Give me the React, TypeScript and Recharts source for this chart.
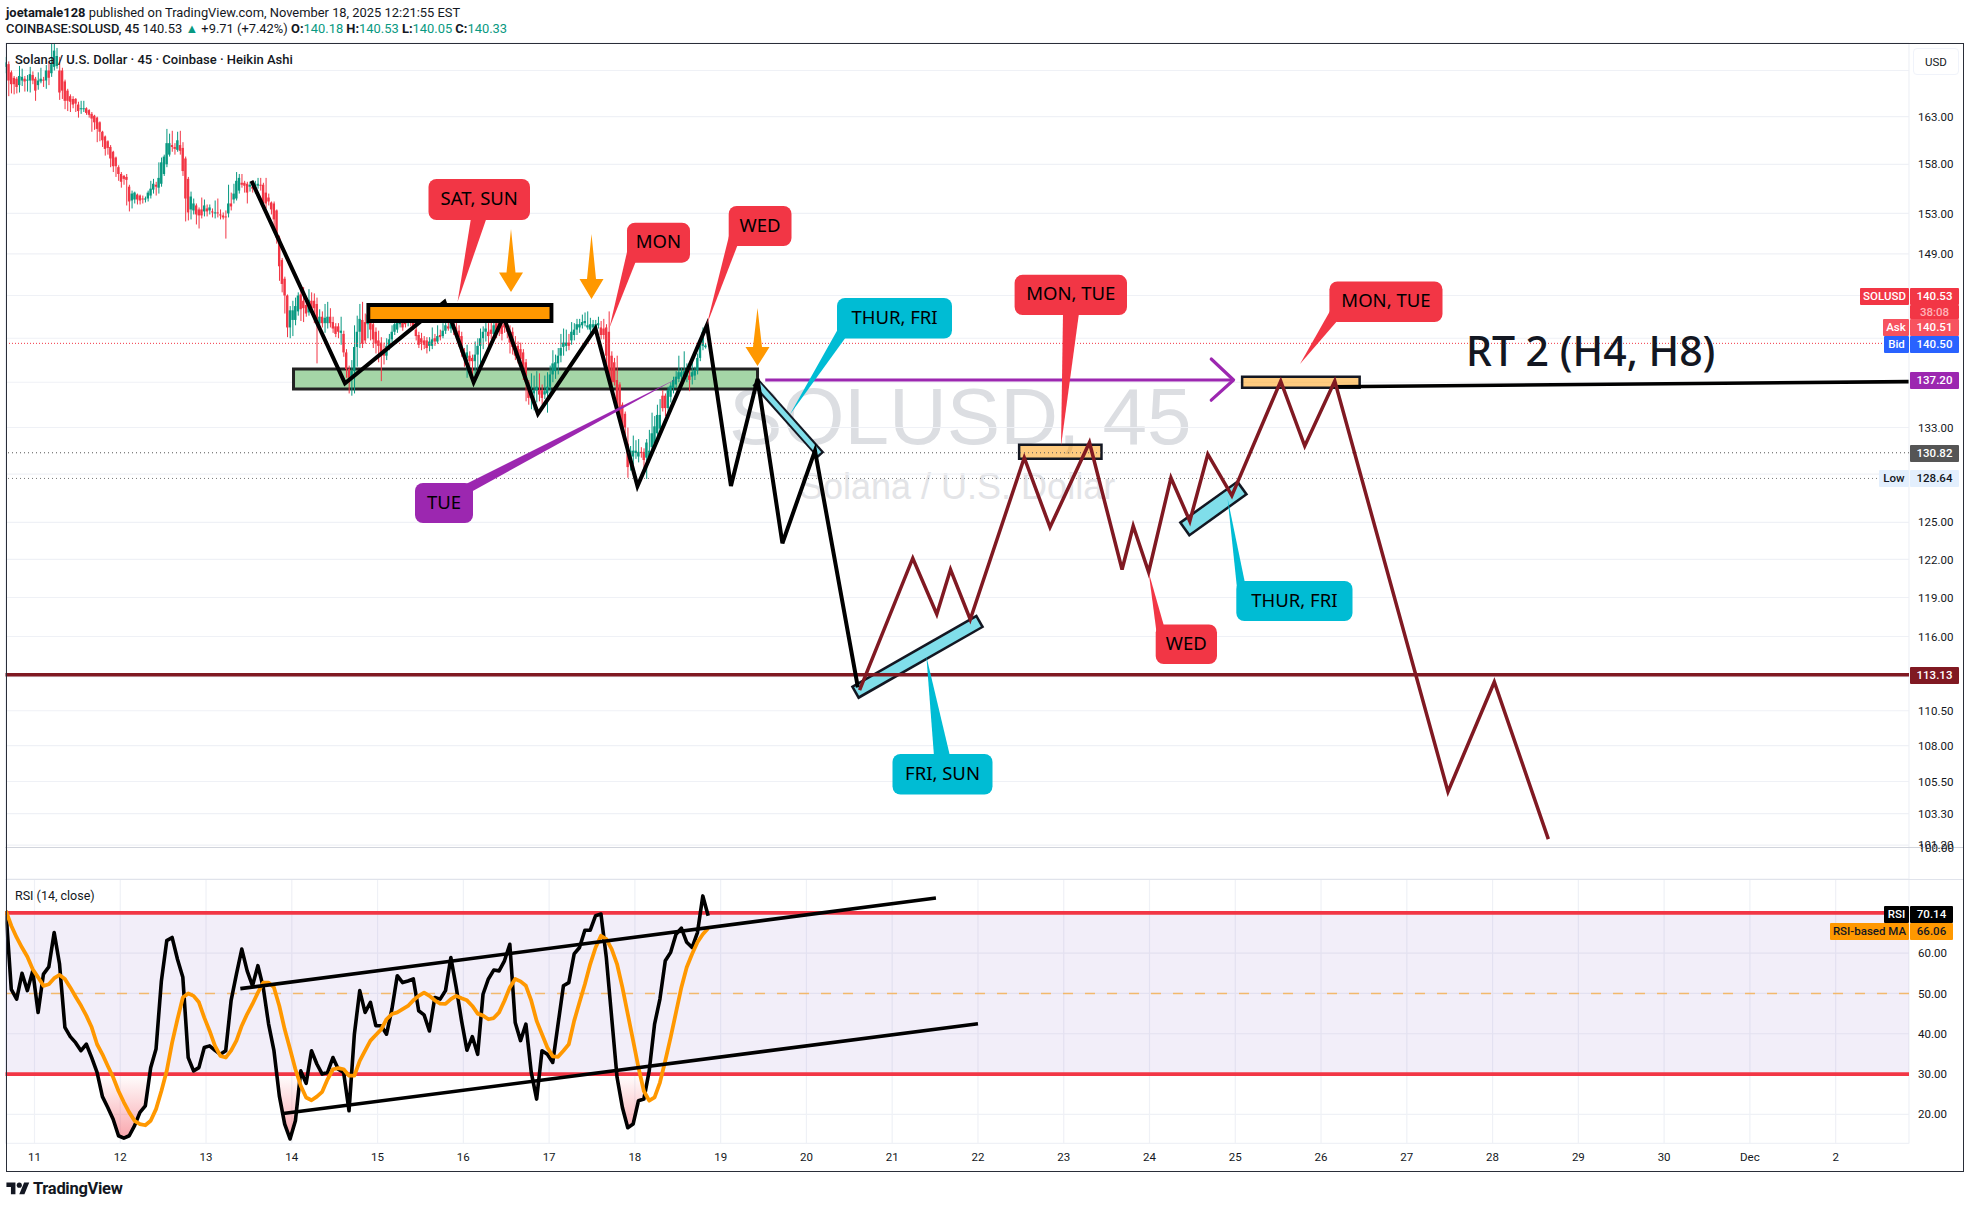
import React from "react";
import {
  Area,
  Bar,
  CartesianGrid,
  ComposedChart,
  Line,
  ReferenceArea,
  ReferenceLine,
  XAxis,
  YAxis,
} from "recharts";

const candleOpen = [
  168.4,168.7,167.8,167.2,167.1,166.4,166.9,167.1,166.9,166.9,
  167.5,167.1,166.4,166.8,167.0,166.9,168.0,167.7,168.4,168.5,
  168.0,168.0,166.8,165.8,165.2,164.9,164.9,164.3,163.8,163.9,
  163.9,163.7,163.3,163.1,162.9,162.4,161.4,160.9,160.4,159.8,
  159.3,158.7,157.7,157.0,156.8,156.7,155.7,154.3,154.4,154.9,
  154.8,154.5,154.4,154.5,154.8,155.4,155.9,155.6,156.0,157.0,
  158.0,159.0,160.0,159.8,159.5,160.0,159.7,158.6,156.5,153.4,
  153.3,153.8,153.4,153.4,153.2,153.5,153.3,153.2,153.1,153.1,
  152.9,152.8,152.7,153.0,154.0,154.4,154.5,155.3,156.1,156.1,
  156.0,155.7,155.7,155.4,155.8,155.9,155.9,155.1,154.6,154.1,
  154.0,153.3,150.6,148.4,146.6,145.0,142.0,142.7,142.7,143.5,
  145.1,144.5,144.1,143.4,144.5,144.5,144.2,142.4,143.0,142.4,
  142.4,143.0,142.5,142.1,142.1,141.5,141.4,139.7,138.2,137.5,
  138.0,140.2,141.6,142.7,142.5,142.3,142.7,142.3,141.6,140.8,
  140.6,140.0,139.4,140.3,140.9,141.6,141.8,142.3,142.7,142.7,
  142.5,142.8,142.7,141.8,141.3,141.0,140.8,140.8,140.3,140.3,
  141.0,140.7,141.3,141.2,141.7,142.1,141.9,142.7,142.0,141.7,
  141.2,139.7,139.2,139.4,139.2,138.9,139.5,140.3,141.0,141.6,
  141.6,141.8,141.4,142.4,142.4,142.2,142.4,142.0,141.6,141.6,
  140.3,140.3,140.0,139.7,138.8,137.0,136.0,136.0,136.3,136.3,
  136.3,135.9,136.0,136.6,137.7,138.0,138.7,139.4,140.2,140.3,
  140.6,140.8,141.3,141.8,142.0,142.2,142.4,142.0,141.8,142.0,
  142.0,142.2,
  142.0,141.9,142.0,141.6,139.4,138.8,137.2,136.8,135.0,134.2,
  131.6,130.0,130.5,130.8,130.5,130.9,130.9,130.4,130.4,131.3,
  131.6,132.5,132.9,135.8,135.8,134.7,135.7,136.5,136.8,137.3,
  137.5,137.6,137.5,137.6,137.5,137.6,138.1,139.2,140.3,140.18,
];
const candleClose = [
  168.9,166.9,166.5,166.5,166.2,167.4,167.3,166.8,167.0,167.6,
  166.9,165.8,166.9,167.1,166.9,168.0,167.2,168.7,170.2,169.6,
  165.6,165.8,164.7,164.7,164.6,164.3,164.4,163.6,163.9,163.9,
  163.4,163.2,162.8,162.4,161.7,161.4,160.5,159.6,159.7,158.6,
  157.8,157.8,157.0,156.2,156.5,156.4,154.2,155.0,155.1,154.4,
  154.3,154.4,154.5,155.1,155.5,156.0,155.7,156.6,158.2,158.8,
  160.2,160.2,159.8,159.6,160.5,159.4,157.3,154.5,153.1,154.7,
  154.0,152.9,152.8,152.8,153.8,153.2,153.6,153.1,153.1,153.0,
  152.8,152.6,152.6,154.0,153.7,155.0,156.3,156.6,155.9,155.8,
  155.1,155.9,155.5,155.9,156.0,155.8,154.0,154.0,154.2,153.4,
  152.4,150.6,147.8,146.1,145.0,142.0,143.6,143.6,144.0,145.0,
  143.7,143.8,143.3,144.6,143.8,143.8,142.8,143.0,142.4,142.9,
  143.0,142.4,141.9,141.4,141.6,141.7,139.7,138.2,137.4,138.0,
  140.2,141.6,142.8,140.5,140.8,143.2,141.8,140.9,140.5,140.3,
  139.4,139.4,140.3,140.9,141.6,142.3,142.6,142.7,142.0,142.3,
  143.0,142.4,142.1,141.2,140.4,140.6,140.4,140.1,140.7,140.9,
  140.7,141.2,141.1,141.7,142.2,141.9,142.5,141.8,141.2,141.1,
  139.7,139.2,139.7,138.9,138.9,139.5,140.3,141.0,141.6,141.9,
  141.2,141.4,142.2,141.6,141.6,141.4,142.0,141.6,140.6,140.2,
  139.4,139.2,139.1,138.1,137.0,135.6,136.3,136.3,136.6,135.9,
  135.6,136.2,136.6,137.7,138.7,138.8,139.4,140.1,140.6,140.6,
  140.3,141.6,141.8,142.3,142.3,142.5,142.6,142.2,142.3,142.3,
  142.3,142.4,
  141.3,141.3,139.4,137.2,137.0,137.0,135.0,133.9,133.0,133.0,
  129.6,131.0,131.0,131.0,130.9,130.8,130.2,131.7,131.0,132.5,
  133.1,134.1,134.1,134.7,134.7,136.3,136.7,137.2,137.5,137.9,
  137.9,138.0,138.1,137.2,137.9,138.1,139.2,140.3,141.6,140.33,
];
const candleHigh = [
  169.5,169.0,168.0,167.4,167.3,168.5,168.2,167.4,167.5,168.4,
  167.9,167.3,167.8,168.3,167.3,168.6,169.0,171.0,171.0,170.5,
  169.5,168.3,167.0,166.0,165.4,165.2,165.0,164.6,164.7,164.7,
  164.0,163.8,163.5,163.2,163.0,162.5,161.5,161.0,160.5,160.0,
  159.4,158.8,157.9,157.2,156.9,157.0,155.9,155.3,155.2,155.0,
  154.9,154.8,154.7,155.3,156.3,156.5,156.2,158.2,158.7,159.0,
  161.7,161.2,161.5,160.2,161.4,161.5,160.3,158.8,156.7,155.2,
  154.5,154.0,153.6,154.6,154.4,153.9,153.9,153.5,154.3,154.5,
  153.4,153.1,153.3,155.9,155.1,156.0,157.2,157.0,157.0,156.3,
  156.2,156.2,156.0,156.3,156.6,156.6,156.1,156.6,155.0,154.2,
  154.2,153.4,150.8,148.6,146.8,145.1,144.0,144.5,144.8,145.3,
  145.5,145.8,144.4,145.6,145.3,145.2,144.8,143.7,143.5,144.2,
  144.4,143.8,143.0,142.4,142.4,143.0,141.7,140.0,138.5,139.0,
  142.2,143.1,144.2,144.4,143.3,144.0,143.6,143.0,142.0,141.7,
  141.1,140.6,141.0,141.4,142.2,142.9,143.7,143.4,143.0,143.2,
  143.4,143.1,143.0,142.6,141.6,141.5,141.2,141.1,141.1,142.0,
  141.4,142.2,141.8,142.4,142.8,143.2,143.6,144.0,143.0,142.2,
  141.6,140.1,140.4,139.8,139.5,140.7,141.0,141.9,142.1,143.1,
  142.4,142.8,142.9,143.0,143.1,142.9,143.0,143.0,142.2,142.0,
  141.2,140.7,140.6,140.0,139.1,137.2,137.8,137.6,138.0,137.8,
  136.8,137.6,137.9,138.5,139.9,139.5,140.1,141.4,141.9,141.8,
  141.4,142.5,142.4,142.8,142.8,143.2,143.4,143.5,142.9,142.7,
  142.7,143.0,
  142.6,142.8,142.3,143.5,139.8,139.2,139.4,137.0,135.2,134.4,
  133.0,131.4,132.3,131.9,132.0,131.3,131.2,132.0,132.8,134.3,
  134.0,135.0,135.5,136.3,136.0,136.6,137.0,137.5,138.0,139.4,
  138.3,139.8,138.7,138.2,138.9,138.4,139.6,140.8,142.0,140.53,
];
const candleLow = [
  167.7,165.2,165.5,165.4,165.5,165.6,166.3,165.7,165.7,165.6,
  166.5,164.7,165.9,166.6,166.2,166.0,166.4,167.3,168.0,168.2,
  164.8,164.9,163.8,163.6,163.5,163.9,163.5,162.9,163.3,163.5,
  163.2,162.9,161.4,161.6,160.3,160.4,159.8,158.9,159.0,157.7,
  157.2,156.7,156.3,155.6,155.9,153.8,153.2,153.5,154.0,153.9,
  153.9,154.0,154.1,154.2,154.5,155.0,154.8,155.0,155.7,156.8,
  157.7,158.8,159.3,159.0,159.3,159.0,156.8,152.2,152.3,152.4,
  152.9,151.9,151.5,152.5,152.7,152.7,152.9,152.6,152.5,152.6,
  152.4,152.4,150.5,152.6,153.3,154.0,154.3,155.0,155.6,155.1,
  154.0,155.2,155.1,155.0,155.5,155.3,153.3,153.5,153.8,152.9,
  151.5,150.0,146.4,145.3,143.3,141.1,141.0,141.2,142.2,143.1,
  142.6,142.5,143.0,143.1,143.2,142.4,138.7,142.0,142.0,141.5,
  141.9,142.0,141.5,141.1,141.0,140.4,139.3,137.4,136.0,135.8,
  136.0,138.4,140.1,140.1,140.5,141.0,140.8,140.1,139.6,138.8,
  137.1,138.6,139.0,139.9,140.6,141.3,141.5,142.0,141.7,142.0,
  142.1,142.1,141.8,140.8,140.1,139.9,140.0,139.6,139.8,140.0,
  140.3,140.5,140.8,141.0,141.4,141.7,141.5,141.3,141.0,140.2,
  139.3,138.4,137.4,138.4,137.6,137.6,138.1,138.6,140.0,140.7,
  140.2,140.9,141.0,141.0,141.2,140.8,141.5,141.0,139.6,139.5,
  139.0,138.7,138.9,137.2,135.3,135.0,134.6,134.5,135.2,135.3,
  135.0,135.5,134.3,135.9,137.0,137.3,137.7,138.8,139.4,139.8,
  139.9,140.4,140.8,141.3,141.5,141.9,142.1,141.8,141.4,141.5,
  141.7,141.9,
  140.9,140.9,138.4,137.0,136.5,136.7,134.8,133.2,132.7,132.0,
  128.7,129.3,129.8,130.3,130.0,130.4,129.5,128.6,130.0,130.8,
  131.2,132.0,132.6,134.4,134.0,134.3,135.2,136.0,136.5,137.0,
  137.0,137.3,137.0,136.2,136.8,137.2,137.7,138.9,139.9,140.05,
];

const rsiValues = [
  70.5,51,48.6,55,50.7,55.6,45.3,54.8,56.6,65.1,
  57.3,41.6,39.3,37.8,35.8,37.4,34.1,30.4,24.4,21.7,
  18.8,14.7,14.1,14.7,17.2,20.5,22.1,31.6,36.2,53.1,
  63.1,63.9,58.5,54,34.1,30.8,31.6,36.6,37,35.9,
  34.9,35.8,48.2,54.8,61,55.6,51.9,56.9,51.5,42.4,
  35.8,24.6,17.6,13.9,18.4,30.8,27.7,35.8,32.5,30,
  30.4,34.1,31.2,30.4,20.9,39.9,50.7,45.3,47.8,42,
  42,39.9,46.1,54.4,52.7,53.1,53.6,45.7,44.7,40.7,
  49,48.6,50.7,58.9,51.5,43.2,35.9,39.3,34.9,49.8,
  53.6,55.8,55.6,58.1,62.2,42.8,38.3,42.4,30.4,23.8,
  35.8,34.9,32.9,42.4,51.9,52.7,59.8,61.4,65.7,65.7,
  69.3,69.7,58.9,44,29.2,21.7,16.7,17.6,23.4,23.8,
  30.8,42.4,48.6,58.1,60.2,64.7,66.2,62.7,61.4,65.1,
  74.2,69.3,
];
const rsiMa = [
  70.5,66.8,63.9,61.4,59.1,56,54,51.9,52.3,53.8,
  54.6,53.6,51.5,49.2,47,44.5,41.6,37.4,34.9,32,
  29.2,25.8,23,20.5,18.4,17.6,17.3,18.4,21.3,25.8,
  30.8,37.8,43.6,49,50,49.4,47.8,44,40.7,37,
  34.5,34.1,35.8,38.3,42,44.9,47.4,50.2,52.7,52.7,
  51.5,46.9,41.1,36.2,31.2,27.1,24.2,23.5,24.4,25.6,
  28.7,31.2,31.5,31.2,29.6,29.6,33.3,35.8,38.3,39.7,
  41.1,43.6,44.9,45.3,46.1,46.9,48.3,49.4,50.2,49.4,
  48.3,47.5,47.4,48.6,49.4,48.8,48.3,46.9,45,44.5,
  43.6,43.9,45.3,48.2,51.5,53.6,53,51.9,48.2,43.2,
  39.9,36.6,34.4,34.3,35.8,37.4,43.2,47.8,52.3,57.3,
  61.4,64.3,63.5,61,57.3,51.5,44.9,38.3,31.6,25.8,
  23.4,24.2,27.9,33.3,39.1,45.3,51.5,56.5,59.8,62.7,
  64.7,66.2,
];

// hand drawn paths: [day of month, price]
const blackPath = [
  [13.53,156.3],[14.62,136.9],[15.78,144.4],[16.12,137.0],[16.47,143.0],[16.87,134.2],[17.54,141.9],
  [18.03,128.0],[18.84,142.2],[19.12,128.0],[19.43,137.3],[19.72,123.3],[20.10,131.0],[20.60,112.2],
];
const maroonPath = [
  [20.62,112.0],[21.24,122.1],[21.52,117.7],[21.68,121.2],[21.91,117.3],[22.54,130.4],[22.84,124.6],
  [23.30,131.7],[23.68,121.2],[23.81,124.7],[23.99,121.0],[24.25,128.7],[24.47,125.1],[24.68,130.7],
  [24.96,127.2],[25.53,137.1],[25.81,131.4],[26.16,137.1],[27.48,104.8],[28.02,112.6],[28.65,101.6],
];
const purpleArrow = [[19.52,137.2],[24.98,137.2]];
const purpleHead = [[24.72,139.1],[24.98,137.2],[24.72,135.4]];
const targetLine = [[26.16,136.6],[32.85,137.05]];
const blueBoxes = [
  { outer: [[19.41,137.0],[20.17,130.6]], inner: [[19.43,136.85],[20.15,130.75]], outerW: 9, innerW: 5 },
  { outer: [[20.56,111.8],[22.03,117.2]], inner: [[20.585,111.9],[22.005,117.1]], outerW: 15, innerW: 10 },
  { outer: [[24.40,124.4],[25.09,127.9]], inner: [[24.425,124.52],[25.065,127.78]], outerW: 18, innerW: 13 },
];
const orangeOuter = [[14.87,143.35],[17.05,143.35]];
const orangeInner = [[14.915,143.35],[17.005,143.35]];
const rsiUpper = [[13.40,51.2],[21.51,73.7]];
const rsiLower = [[13.90,20.2],[22.0,42.5]];

const priceTicks = [168,163,158,153,149,145,141,137,133,129,125,122,119,116,113,110.5,108,105.5,103.3,101.2];
const rsiTicks = [20,30,40,50,60,70];
const dayTicks = [11,12,13,14,15,16,17,18,19,20,21,22,23,24,25,26,27,28,29,30,31,32];

const GREEN = "#089981";
const RED = "#F23645";
const MAROON = "#801922";
const PURPLE = "#9C27B0";
const CYAN = "#00BCD4";
const GRID = "#EFF1F6";
const TEXT = "#131722";
const DAY_DOMAIN = [10.662, 32.855];

const toPoints = (path: number[][]) => path.map(([d, v]) => ({ d, v }));

const candles = candleOpen.map((open, i) => {
  const close = candleClose[i];
  return {
    d: 10.667 + i / 32,
    wick: [candleLow[i], candleHigh[i]],
    body: [Math.min(open, close), Math.max(open, close)],
    color: close >= open ? GREEN : RED,
  };
});

const rsiData = rsiValues.map((rsi, k) => ({
  d: 10.667 + k / 16,
  rsi,
  ma: rsiMa[k],
  low: [Math.min(rsi, 30), 30],
}));

function CandlePart(props: any) {
  const { x, y, width, height, payload } = props;
  const top = height < 0 ? y + height : y;
  return <rect x={x} y={top} width={width} height={Math.max(Math.abs(height), 1)} fill={payload.color} />;
}

const callouts = [
  { text: "SAT, SUN", bg: RED, box: [428.5,179,530,220], tail: [[471,218],[457.6,301.7],[486.6,218]] },
  { text: "MON", bg: RED, box: [627,222.7,690,262.7], tail: [[627,252],[609.4,328],[636,261]] },
  { text: "WED", bg: RED, box: [728.7,206,791.5,246], tail: [[729,236],[706.7,325],[738,244]] },
  { text: "TUE", bg: PURPLE, box: [415,483,473,523], tail: [[464,485],[678,378],[471,492]] },
  { text: "THUR, FRI", bg: CYAN, box: [837,298,952,338.6], tail: [[838,329],[789.6,415],[846,337]] },
  { text: "MON, TUE", bg: RED, box: [1014.6,274.8,1127,315], tail: [[1063,313],[1061,446],[1079,313]] },
  { text: "FRI, SUN", bg: CYAN, box: [892.5,754,992.5,794.5], tail: [[934,756],[926.4,656.6],[950,756]] },
  { text: "WED", bg: RED, box: [1155.7,624.5,1217,664], tail: [[1164,626],[1148.6,572],[1156.5,632]] },
  { text: "THUR, FRI", bg: CYAN, box: [1236.3,581,1352.5,621], tail: [[1245,583],[1227.6,498.6],[1237,588]] },
  { text: "MON, TUE", bg: RED, box: [1329.4,281.4,1442.5,322], tail: [[1330,311],[1300,364],[1338,320]] },
];
const downArrows = [
  [511,229,292,272.5,12],
  [591.5,234,299,279,12],
  [757.5,308,366,347,12],
];

const tags = [
  { x: 1860, y: 288, w: 49, h: 17, bg: RED, color: "#fff", text: "SOLUSD" },
  { x: 1910, y: 288, w: 49, h: 17, bg: RED, color: "#fff", text: "140.53" },
  { x: 1910, y: 305, w: 49, h: 14, bg: RED, color: "#FFB3B8", text: "38:08" },
  { x: 1883, y: 319, w: 26, h: 17, bg: "#F7525F", color: "#fff", text: "Ask" },
  { x: 1910, y: 319, w: 49, h: 17, bg: "#F7525F", color: "#fff", text: "140.51" },
  { x: 1884, y: 336, w: 25, h: 17, bg: "#2962FF", color: "#fff", text: "Bid" },
  { x: 1910, y: 336, w: 49, h: 17, bg: "#2962FF", color: "#fff", text: "140.50" },
  { x: 1910, y: 372, w: 49, h: 17, bg: PURPLE, color: "#fff", text: "137.20" },
  { x: 1910, y: 445, w: 49, h: 17, bg: "#555555", color: "#fff", text: "130.82" },
  { x: 1879, y: 470, w: 30, h: 17, bg: "#E3EFFD", color: TEXT, text: "Low" },
  { x: 1910, y: 470, w: 49, h: 17, bg: "#E3EFFD", color: TEXT, text: "128.64" },
  { x: 1910, y: 667, w: 49, h: 17, bg: MAROON, color: "#fff", text: "113.13" },
  { x: 1884, y: 906, w: 25, h: 17, bg: "#000", color: "#fff", text: "RSI" },
  { x: 1910, y: 906, w: 43, h: 17, bg: "#000", color: "#fff", text: "70.14" },
  { x: 1830, y: 923, w: 79, h: 17, bg: "#FF9800", color: TEXT, text: "RSI-based MA" },
  { x: 1910, y: 923, w: 43, h: 17, bg: "#FF9800", color: TEXT, text: "66.06" },
];

const abs = (left: number, top: number, extra: React.CSSProperties = {}): React.CSSProperties => ({
  position: "absolute",
  left,
  top,
  whiteSpace: "nowrap",
  ...extra,
});

function PriceChart() {
  return (
    <ComposedChart
      width={1970}
      height={879}
      data={candles}
      margin={{ top: 43, left: 5.5, right: 7, bottom: 0 }}
      style={{ position: "absolute", left: 0, top: 0 }}
    >
      <CartesianGrid stroke={GRID} strokeWidth={1.2} />
      <XAxis dataKey="d" type="number" domain={DAY_DOMAIN} ticks={dayTicks} tick={false} tickLine={false} axisLine={false} height={0} allowDataOverflow />
      <XAxis xAxisId="wick" dataKey="d" type="number" domain={DAY_DOMAIN} hide allowDataOverflow />
      <XAxis xAxisId="body" dataKey="d" type="number" domain={DAY_DOMAIN} hide allowDataOverflow />
      <YAxis
        orientation="right"
        width={54}
        scale="log"
        domain={[98.98, 171.05]}
        ticks={priceTicks}
        interval={0}
        allowDataOverflow
        axisLine={false}
        tickLine={false}
        tickSize={0}
        tickMargin={9}
        tick={{ fill: TEXT, fontSize: 11.5 }}
        tickFormatter={(v: number) => v.toFixed(2)}
      />
      <ReferenceLine y={140.53} stroke={RED} strokeDasharray="1 2" />
      <ReferenceLine y={130.82} stroke="#555" strokeDasharray="1 3" />
      <ReferenceLine y={128.64} stroke="#777" strokeDasharray="1 3" />
      <ReferenceArea x1={14.02} x2={19.43} y1={136.4} y2={138.2} fill="#A5D6A7" fillOpacity={1} stroke="#222" strokeWidth={3} />
      <Bar xAxisId="wick" dataKey="wick" barSize={1} shape={CandlePart} isAnimationActive={false} />
      <Bar xAxisId="body" dataKey="body" barSize={2.4} shape={CandlePart} isAnimationActive={false} />
      {blueBoxes.map((b, i) => (
        <Line key={`o${i}`} data={toPoints(b.outer)} dataKey="v" stroke="#131722" strokeWidth={b.outerW} dot={false} isAnimationActive={false} />
      ))}
      {blueBoxes.map((b, i) => (
        <Line key={`i${i}`} data={toPoints(b.inner)} dataKey="v" stroke="#80DEEA" strokeWidth={b.innerW} dot={false} isAnimationActive={false} />
      ))}
      <ReferenceLine y={113.13} stroke={MAROON} strokeWidth={3.4} />
      <Line data={toPoints(purpleArrow)} dataKey="v" stroke={PURPLE} strokeWidth={3.2} dot={false} isAnimationActive={false} />
      <Line data={toPoints(purpleHead)} dataKey="v" stroke={PURPLE} strokeWidth={3.2} strokeLinecap="round" strokeLinejoin="round" dot={false} isAnimationActive={false} />
      <Line data={toPoints(targetLine)} dataKey="v" stroke="#000" strokeWidth={3.6} dot={false} isAnimationActive={false} />
      <Line data={toPoints(blackPath)} dataKey="v" stroke="#000" strokeWidth={4} strokeLinejoin="miter" dot={false} isAnimationActive={false} />
      <Line data={toPoints(maroonPath)} dataKey="v" stroke={MAROON} strokeWidth={3.5} strokeLinejoin="miter" dot={false} isAnimationActive={false} />
      <Line data={toPoints(orangeOuter)} dataKey="v" stroke="#000" strokeWidth={20} dot={false} isAnimationActive={false} />
      <Line data={toPoints(orangeInner)} dataKey="v" stroke="#FF9800" strokeWidth={12} dot={false} isAnimationActive={false} />
      <ReferenceArea x1={22.48} x2={23.44} y1={130.3} y2={131.5} fill="#FF9800" fillOpacity={0.5} stroke="#131722" strokeWidth={2.5} />
      <ReferenceArea x1={25.08} x2={26.45} y1={136.5} y2={137.5} fill="#FF9800" fillOpacity={0.5} stroke="#131722" strokeWidth={2.5} />
    </ComposedChart>
  );
}

function RsiChart() {
  return (
    <ComposedChart
      width={1970}
      height={293}
      data={rsiData}
      margin={{ top: 0, left: 5.5, right: 7, bottom: 0 }}
      style={{ position: "absolute", left: 0, top: 879 }}
    >
      <defs>
        <linearGradient id="oversold" x1="0" y1="0" x2="0" y2="1">
          <stop offset="0%" stopColor={RED} stopOpacity={0} />
          <stop offset="100%" stopColor={RED} stopOpacity={0.45} />
        </linearGradient>
      </defs>
      <CartesianGrid stroke={GRID} strokeWidth={1.2} />
      <XAxis
        dataKey="d"
        type="number"
        domain={DAY_DOMAIN}
        ticks={dayTicks}
        interval={0}
        allowDataOverflow
        height={28.6}
        axisLine={false}
        tickLine={false}
        tickSize={0}
        tickMargin={9.5}
        tick={{ fill: TEXT, fontSize: 11.5 }}
        tickFormatter={(v: number) => (v === 31 ? "Dec" : v === 32 ? "2" : String(v))}
      />
      <YAxis
        orientation="right"
        width={54}
        domain={[12.8, 78.4]}
        ticks={rsiTicks}
        interval={0}
        allowDataOverflow
        axisLine={false}
        tickLine={false}
        tickSize={0}
        tickMargin={9}
        tick={{ fill: TEXT, fontSize: 11.5 }}
        tickFormatter={(v: number) => v.toFixed(2)}
      />
      <ReferenceArea y1={30} y2={70} fill="#7E57C2" fillOpacity={0.1} stroke="none" />
      <Area dataKey="low" stroke="none" fill="url(#oversold)" fillOpacity={1} dot={false} activeDot={false} isAnimationActive={false} />
      <ReferenceLine y={50} stroke="#FF9800" strokeOpacity={0.55} strokeWidth={1.6} strokeDasharray="10 12" />
      <ReferenceLine y={70} stroke={RED} strokeWidth={3.8} />
      <ReferenceLine y={30} stroke={RED} strokeWidth={3.8} />
      <Line dataKey="rsi" stroke="#000" strokeWidth={3.6} strokeLinejoin="round" dot={false} isAnimationActive={false} />
      <Line dataKey="ma" stroke="#FF9800" strokeWidth={3.8} strokeLinejoin="round" dot={false} isAnimationActive={false} />
      <Line data={toPoints(rsiUpper)} dataKey="v" stroke="#000" strokeWidth={3.6} dot={false} isAnimationActive={false} />
      <Line data={toPoints(rsiLower)} dataKey="v" stroke="#000" strokeWidth={3.6} dot={false} isAnimationActive={false} />
    </ComposedChart>
  );
}

function Drawings() {
  return (
    <svg width={1970} height={1208} style={{ position: "absolute", left: 0, top: 0, pointerEvents: "none" }}>
      {downArrows.map(([x, top, tip, wing, half], i) => (
        <polygon
          key={i}
          fill="#FF9800"
          points={`${x},${top} ${x + 4.5},${wing} ${x + half},${wing} ${x},${tip} ${x - half},${wing} ${x - 4.5},${wing}`}
        />
      ))}
      {callouts.map((c, i) => {
        const [x1, y1, x2, y2] = c.box;
        return (
          <g key={i}>
            <polygon points={c.tail.map((p) => p.join(",")).join(" ")} fill={c.bg} />
            <rect x={x1} y={y1} width={x2 - x1} height={y2 - y1} rx={8} fill={c.bg} />
            <text x={(x1 + x2) / 2} y={(y1 + y2) / 2 + 5.5} textAnchor="middle" fontSize={18.5} fontFamily="Noto Sans" fill="#000">
              {c.text}
            </text>
          </g>
        );
      })}
      <text x={1466} y={366} fontSize={41} fontWeight={500} fontFamily="Noto Sans" fill={TEXT}>
        RT 2 (H4, H8)
      </text>
    </svg>
  );
}

export default function App() {
  return (
    <div style={{ position: "absolute", left: 0, top: 0, width: 1970, height: 1208, background: "#fff", overflow: "hidden", fontFamily: "Roboto", color: TEXT }}>
      <div style={abs(6, 5, { fontSize: 12.9 })}>
        <b>joetamale128</b> published on TradingView.com, November 18, 2025 12:21:55 EST
      </div>
      <div style={abs(6, 21, { fontSize: 12.9 })}>
        <span style={{ fontWeight: 500 }}>COINBASE:SOLUSD, 45</span> 140.53 <span style={{ color: GREEN }}>▲</span> +9.71 (+7.42%){" "}
        <b>O:</b><span style={{ color: GREEN }}>140.18</span> <b>H:</b><span style={{ color: GREEN }}>140.53</span>{" "}
        <b>L:</b><span style={{ color: GREEN }}>140.05</span> <b>C:</b><span style={{ color: GREEN }}>140.33</span>
      </div>

      <div style={abs(729, 371, { fontFamily: "Liberation Sans", fontSize: 80, color: "#DCDEE2" })}>SOLUSD, 45</div>
      <div style={abs(799, 466, { fontFamily: "Liberation Sans", fontSize: 36, color: "#E3E4E7" })}>Solana / U.S. Dollar</div>

      <PriceChart />
      <RsiChart />

      <div style={abs(15, 52, { fontSize: 13, fontWeight: 500 })}>Solana / U.S. Dollar · 45 · Coinbase · Heikin Ashi</div>
      <div style={abs(15, 888, { fontSize: 12.5 })}>RSI (14, close)</div>

      <div style={abs(5, 847, { width: 1958, height: 1, background: "#D1D4DC" })} />
      <div style={abs(5, 879, { width: 1958, height: 1, background: "#E0E3EB" })} />
      <div style={abs(1918.5, 841, { fontSize: 11.5, background: "transparent" })}>100.00</div>

      <Drawings />

      {tags.map((t, i) => (
        <div
          key={i}
          style={abs(t.x, t.y, {
            width: t.w,
            height: t.h,
            lineHeight: `${t.h}px`,
            background: t.bg,
            color: t.color,
            fontSize: 11.5,
            fontWeight: 500,
            textAlign: "center",
            borderRadius: 1,
          })}
        >
          {t.text}
        </div>
      ))}

      <div style={abs(1913, 48, { width: 46, height: 27, lineHeight: "27px", textAlign: "center", fontSize: 11.5, background: "#fff", border: "1px solid #F0F3FA", borderRadius: 4, boxSizing: "border-box" })}>
        USD
      </div>

      <div style={abs(5.5, 43, { width: 1958, height: 1129, border: "1.5px solid #2A2E39", boxSizing: "border-box" })} />

      <svg width={24} height={18} viewBox="0 0 36 28" style={{ position: "absolute", left: 5.5, top: 1180 }}>
        <path d="M14 22H7V11H0V4h14v18zM28 22h-8l7.5-18h8L28 22z" fill={TEXT} />
        <circle cx={20} cy={8} r={4} fill={TEXT} />
      </svg>
      <div style={abs(33, 1179, { fontSize: 16.5, fontWeight: 700, letterSpacing: -0.3 })}>TradingView</div>
    </div>
  );
}
